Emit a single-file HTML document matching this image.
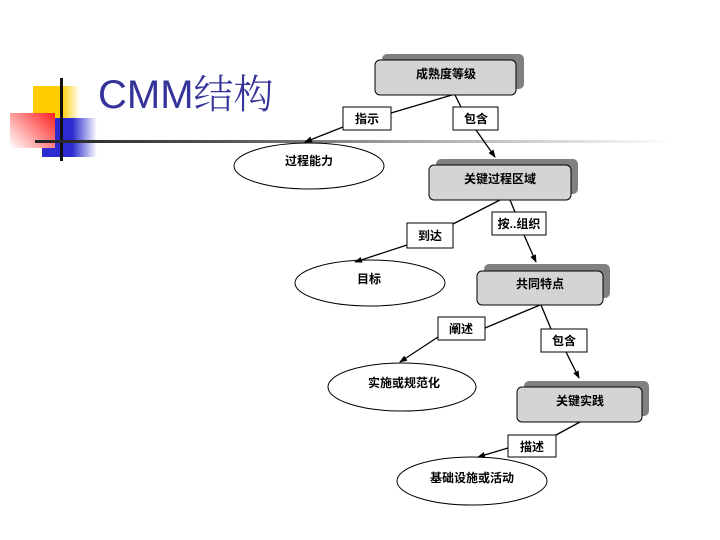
<!DOCTYPE html>
<html><head><meta charset="utf-8"><style>
html,body{margin:0;padding:0;background:#fff;}
body{width:720px;height:540px;position:relative;overflow:hidden;font-family:"Liberation Sans","Noto Sans CJK SC",sans-serif;}
.a{position:absolute;}
</style></head><body>
<div class="a" style="left:33px;top:86px;width:47px;height:33px;background:linear-gradient(90deg,#ffcc00 60%,#fff);"></div>
<div class="a" style="left:42px;top:118px;width:55px;height:39px;background:linear-gradient(90deg,#2b2bd0 55%,#fff);"></div>
<div class="a" style="left:10px;top:113px;width:45px;height:35px;background:linear-gradient(45deg,#fff 0%,#ffb0b0 35%,#ff2020 100%);"></div>
<div class="a" style="left:60px;top:78px;width:3px;height:83px;background:#111;"></div>
<div class="a" style="left:35px;top:140px;width:640px;height:3px;background:linear-gradient(90deg,#222 0%,#555 30%,#aaa 60%,#fff 100%);"></div>
<div class="a" style="left:98px;top:68px;font-size:40px;color:#333399;line-height:48px;font-family:'Liberation Sans','Noto Sans CJK SC',sans-serif;">CMM<span style="font-family:'Noto Serif CJK SC',serif;font-weight:300">结构</span></div>
<svg class="a" style="left:0;top:0" width="720" height="540" font-family="Liberation Sans,Noto Sans CJK SC,sans-serif" font-size="12" font-weight="bold">
<defs><marker id="ar" markerWidth="8" markerHeight="8" refX="7" refY="4" orient="auto" markerUnits="userSpaceOnUse"><path d="M0,1 L8,4 L0,7z" fill="#000"/></marker></defs>
<g fill="#fff" stroke="#000" stroke-width="1">
<ellipse cx="309" cy="166" rx="75" ry="23"/>
<ellipse cx="370" cy="283" rx="75" ry="23"/>
<ellipse cx="402" cy="387" rx="74" ry="24"/>
<ellipse cx="472" cy="481" rx="75" ry="24"/>
</g>
<g fill="#808080">
<rect x="382" y="54" width="142" height="35" rx="5"/>
<rect x="436" y="159" width="142" height="35" rx="5"/>
<rect x="484" y="264" width="126" height="34" rx="5"/>
<rect x="524" y="381" width="125" height="35" rx="5"/>
</g>
<g fill="#d4d4d4" stroke="#000">
<rect x="375" y="60" width="141" height="35" rx="5"/>
<rect x="429" y="165" width="142" height="35" rx="5"/>
<rect x="477" y="271" width="126" height="34" rx="5"/>
<rect x="517" y="387" width="125" height="35" rx="5"/>
</g>
<g stroke="#000" stroke-width="1.3" fill="none">
<line x1="452" y1="95" x2="391" y2="113"/>
<line x1="343" y1="127" x2="305" y2="142" marker-end="url(#ar)"/>
<line x1="455" y1="95" x2="461" y2="107"/>
<line x1="476" y1="130" x2="495" y2="157" marker-end="url(#ar)"/>
<line x1="500" y1="200" x2="453" y2="224"/>
<line x1="407" y1="245" x2="355" y2="262" marker-end="url(#ar)"/>
<line x1="510" y1="200" x2="515" y2="212"/>
<line x1="524" y1="235" x2="536" y2="262" marker-end="url(#ar)"/>
<line x1="540" y1="305" x2="485" y2="328"/>
<line x1="438" y1="337" x2="400" y2="362" marker-end="url(#ar)"/>
<line x1="541" y1="305" x2="551" y2="329"/>
<line x1="566" y1="352" x2="579" y2="378" marker-end="url(#ar)"/>
<line x1="580" y1="422" x2="556" y2="435"/>
<line x1="508" y1="448" x2="478" y2="457" marker-end="url(#ar)"/>
</g>
<g fill="#fff" stroke="#000">
<rect x="343" y="107" width="48" height="23"/>
<rect x="453" y="107" width="45" height="23"/>
<rect x="492" y="212" width="54" height="23"/>
<rect x="407" y="223" width="46" height="25"/>
<rect x="438" y="317" width="47" height="23"/>
<rect x="541" y="329" width="46" height="23"/>
<rect x="508" y="435" width="48" height="22"/>
</g>
<g text-anchor="middle" fill="#000">
<text x="446" y="78">成熟度等级</text>
<text x="500" y="183">关键过程区域</text>
<text x="540" y="288">共同特点</text>
<text x="580" y="405">关键实践</text>
<text x="367" y="123">指示</text>
<text x="476" y="123">包含</text>
<text x="519" y="228">按..组织</text>
<text x="430" y="240">到达</text>
<text x="461" y="333">阐述</text>
<text x="564" y="345">包含</text>
<text x="532" y="451">描述</text>
<text x="309" y="165">过程能力</text>
<text x="369" y="283">目标</text>
<text x="404" y="387">实施或规范化</text>
<text x="472" y="482">基础设施或活动</text>
</g>
</svg>
</body></html>
